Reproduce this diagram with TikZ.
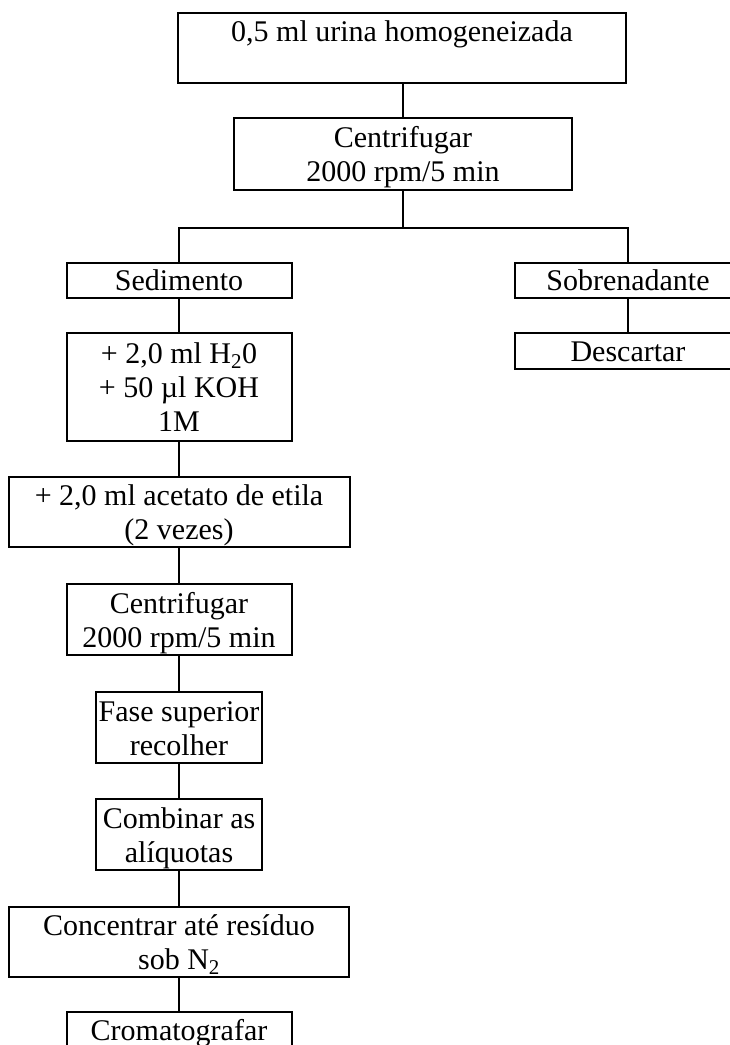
\documentclass[tikz,border=0pt]{standalone}
\usepackage{fontspec}
\setmainfont{Liberation Serif}
\newcommand\tpstrut{\rule{0pt}{28pt}}
\newcommand\btstrut{\rule[-7pt]{0pt}{7pt}}
\begin{document}
\begin{tikzpicture}[x=1pt,y=-1pt,
  box/.style={draw,line width=2pt,inner sep=0pt,align=center,
    font=\fontsize{30}{34}\selectfont},
  conn/.style={draw,line width=2pt}]
\useasboundingbox (0,0) rectangle (730,1045);
\begin{scope}
\clip (0,0) rectangle (730,1045);
\node[box,minimum width=448,minimum height=70] (top) at (402,48) {\tpstrut 0,5 ml urina homogeneizada\\\btstrut};
\node[box,minimum width=338,minimum height=72] (c1) at (403,154) {\tpstrut Centrifugar\\2000 rpm/5 min\btstrut};
\node[box,minimum width=225,minimum height=35] (sed) at (179,280) {\tpstrut Sedimento\btstrut};
\node[box,minimum width=226,minimum height=35] (sob) at (628,280) {\tpstrut Sobrenadante\btstrut};
\node[box,minimum width=226,minimum height=36] (desc) at (628,351) {\tpstrut Descartar\btstrut};
\node[box,minimum width=225,minimum height=108] (b2) at (179,387) {\tpstrut + 2,0 ml H\textsubscript{2}0\\+ 50 µl KOH\\1M\btstrut};
\node[box,minimum width=341,minimum height=70] (b3) at (179,512) {\tpstrut + 2,0 ml acetato de etila\\(2 vezes)\btstrut};
\node[box,minimum width=225,minimum height=71] (b4) at (179,619.5) {\tpstrut Centrifugar\\2000 rpm/5 min\btstrut};
\node[box,minimum width=166,minimum height=71] (b5) at (179,727.5) {\tpstrut Fase superior\\recolher\btstrut};
\node[box,minimum width=166,minimum height=71] (b6) at (179,834.5) {\tpstrut Combinar as\\alíquotas\btstrut};
\node[box,minimum width=340,minimum height=70] (b7) at (179,942) {\tpstrut Concentrar até resíduo\\sob N\textsubscript{2}\btstrut};
\node[box,minimum width=225,minimum height=36] (b8) at (179,1030) {\tpstrut Cromatografar\btstrut};
\coordinate (j) at (403,228);
\draw[conn] (top.south -| c1) -- (c1);
\draw[conn] (c1) -- (j);
\draw[conn] (sed.north) |- (j) -| (sob.north);
\draw[conn] (sob) -- (desc);
\draw[conn] (sed) -- (b2);
\draw[conn] (b2) -- (b3);
\draw[conn] (b3) -- (b4);
\draw[conn] (b4) -- (b5);
\draw[conn] (b5) -- (b6);
\draw[conn] (b6) -- (b7);
\draw[conn] (b7) -- (b8);
\end{scope}
\end{tikzpicture}
\end{document}
